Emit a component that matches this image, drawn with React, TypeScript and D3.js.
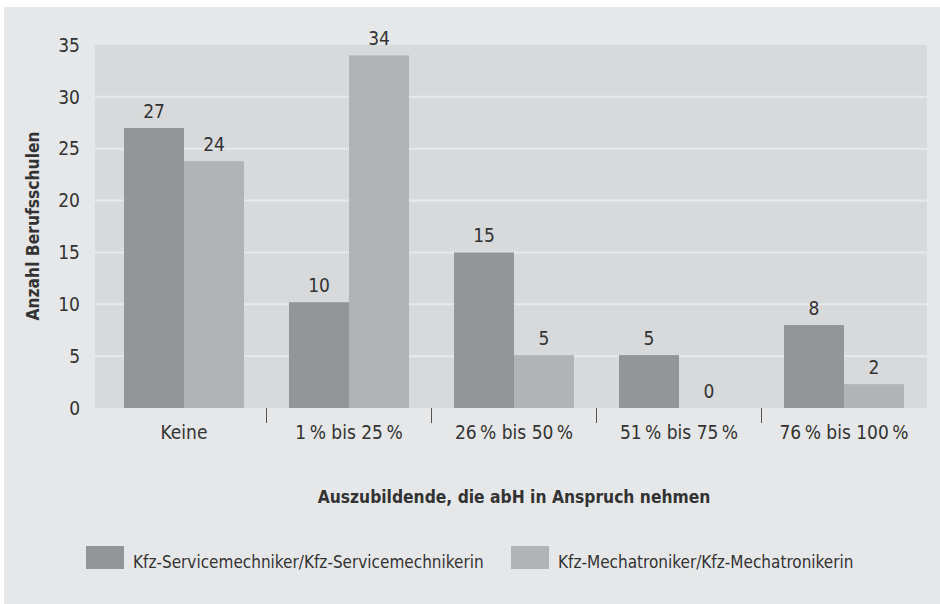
import { scaleBand, scaleLinear } from 'd3'

const categories = ['Keine', '1\u2009% bis 25\u2009%', '26\u2009% bis 50\u2009%', '51\u2009% bis 75\u2009%', '76\u2009% bis 100\u2009%']
const seriesNames = ['Kfz-Servicemechniker/Kfz-Servicemechnikerin', 'Kfz-Mechatroniker/Kfz-Mechatronikerin']
const serviceValues = [27, 10.2, 15, 5.1, 8]
const mechatronikValues = [23.8, 34, 5.1, 0, 2.3]
const yTicks = [0, 5, 10, 15, 20, 25, 30, 35]

const colors = ['#949598', '#b2b3b5']
const font = '"Liberation Sans Narrow", "DejaVu Sans Condensed", "Open Sans", sans-serif'
const textColor = '#333333'

export default function App() {
  const width = 940
  const height = 604
  const plot = { left: 95, right: 927, top: 45, bottom: 408 }
  const seriesValues = [serviceValues, mechatronikValues]

  const x0 = scaleBand<string>().domain(categories).range([101.5, 926.5])
  const x1 = scaleBand<number>().domain([0, 1]).range([0, x0.bandwidth()]).paddingOuter(0.375)
  const y = scaleLinear().domain([0, 35]).range([plot.bottom, plot.top])

  return (
    <svg width={width} height={height} style={{ display: 'block', position: 'absolute', left: 0, top: 0 }} fontFamily={font}>
      <rect width={width} height={height} fill="#ffffff" />
      <rect x="4" y="7" width={width - 4} height={height - 7} fill="#e6e7e9" />
      <rect x={plot.left} y={plot.top} width={plot.right - plot.left} height={plot.bottom - plot.top} fill="#d8d9db" />
      {yTicks.slice(1, -1).map((t) => (
        <line key={t} x1={plot.left} x2={plot.right} y1={y(t)} y2={y(t)} stroke="#e8e9eb" strokeWidth="2" />
      ))}
      {yTicks.map((t) => (
        <text key={t} x="80" y={y(t)} dy="0.35em" textAnchor="end" fontSize="19" fill={textColor}>{t}</text>
      ))}
      {categories.map((c, i) => (
        <g key={c}>
          {seriesValues.map((vals, s) => (
            <g key={s}>
              <rect x={(x0(c) ?? 0) + (x1(s) ?? 0)} y={y(vals[i])} width={x1.bandwidth()} height={plot.bottom - y(vals[i])} fill={colors[s]} />
              <text x={(x0(c) ?? 0) + (x1(s) ?? 0) + x1.bandwidth() / 2} y={y(vals[i]) - 10} textAnchor="middle" fontSize="19" fill={textColor}>
                {Math.round(vals[i])}
              </text>
            </g>
          ))}
          {i > 0 && (
            <line x1={x0(c)} x2={x0(c)} y1={plot.bottom} y2={plot.bottom + 15} stroke="#555555" strokeWidth="1" />
          )}
          <text x={(x0(c) ?? 0) + x0.bandwidth() / 2} y="439" textAnchor="middle" fontSize="19" fill={textColor}>{c}</text>
        </g>
      ))}
      <text x="514" y="503" textAnchor="middle" fontSize="17.3" fontWeight="bold" fill={textColor}>
        Auszubildende, die abH in Anspruch nehmen
      </text>
      <text transform="translate(39,226) rotate(-90)" textAnchor="middle" fontSize="17.3" fontWeight="bold" fill={textColor}>
        Anzahl Berufsschulen
      </text>
      {seriesNames.map((name, s) => {
        const lx = s === 0 ? 86 : 511
        return (
          <g key={name} transform={`translate(${lx},546)`}>
            <rect width="38" height="23" fill={colors[s]} />
            <text x="47" y="22" fontSize="17" fill={textColor}>{name}</text>
          </g>
        )
      })}
    </svg>
  )
}
